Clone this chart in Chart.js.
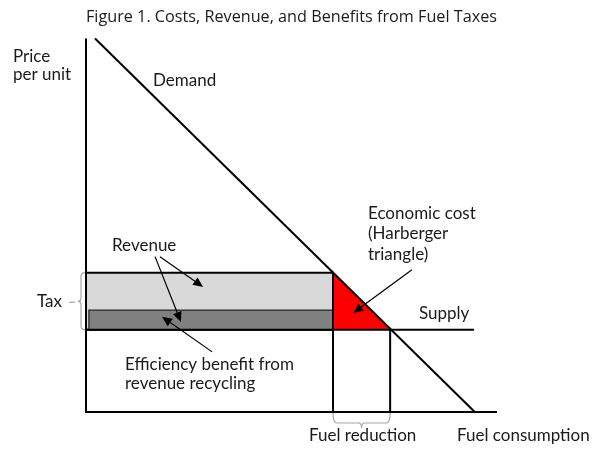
<!DOCTYPE html>
<html>
<head>
<meta charset="utf-8">
<script src="https://cdn.jsdelivr.net/npm/chart.js@4.4.1/dist/chart.umd.min.js"></script>
<style>
  body { margin: 0; background: #fff; }
  #wrap { width: 597px; height: 451px; position: relative; }
</style>
</head>
<body>
<div id="wrap"><canvas id="chartFuel"></canvas></div>
<script>
// quantity (x) and price (y), both on a 0-100 scale
const axisQ = [0, 0, 100];
const axisP = [100, 0, 0];
const demandQ = [2.2, 94.6];
const demandP = [100, 0];
const supplyQ = [0, 94.4];
const supplyP = [22, 22];
const taxP = [22, 37.3];          // producer price, consumer price with tax
const recyclingP = [22, 27.3];    // efficiency benefit band
const recyclingQ = [0.7, 60.1];
const fuelQ = [60.1, 74];         // consumption with tax, without tax

// arrows: [tailQ, tailP, tipQ, tipP]
const arrows = [
  [18, 41.6, 28.5, 33.5],
  [16.8, 41.6, 23.1, 24.1],
  [30.7, 16.1, 18.5, 25.5],
  [79.3, 38.1, 65, 26.5]
];

const labels = [
  { text: 'Price', x: 13, y: 62 },
  { text: 'per unit', x: 13, y: 80 },
  { text: 'Demand', x: 153, y: 86 },
  { text: 'Economic cost', x: 368, y: 219 },
  { text: '(Harberger', x: 368, y: 239 },
  { text: 'triangle)', x: 368, y: 260 },
  { text: 'Revenue', x: 112, y: 251 },
  { text: 'Supply', x: 419, y: 319 },
  { text: 'Tax', x: 37, y: 307 },
  { text: 'Efficiency benefit from', x: 125, y: 370 },
  { text: 'revenue recycling', x: 125, y: 389 },
  { text: 'Fuel reduction', x: 309, y: 441 },
  { text: 'Fuel consumption', x: 457, y: 441 }
];

const pts = (qs, ps) => qs.map((q, i) => ({ x: q, y: ps[i] }));

const lineSet = (data, width) => ({
  type: 'scatter', data, showLine: true, pointRadius: 0, fill: false,
  borderColor: '#000', borderWidth: width, clip: false, order: 1
});
const shapeSet = (data, color, border, width) => ({
  type: 'scatter', data, showLine: true, pointRadius: 0, fill: 'shape',
  backgroundColor: color, borderColor: border, borderWidth: width, clip: false, order: 2
});

const box = (q0, q1, p0, p1) => [
  { x: q0, y: p0 }, { x: q0, y: p1 }, { x: q1, y: p1 }, { x: q1, y: p0 }, { x: q0, y: p0 }
];

const annotations = {
  id: 'annotations',
  afterDatasetsDraw(chart) {
    const { ctx, scales: { x, y } } = chart;
    ctx.save();

    // arrows
    ctx.strokeStyle = '#000';
    ctx.fillStyle = '#000';
    ctx.lineWidth = 1.2;
    arrows.forEach(([q0, p0, q1, p1]) => {
      const x0 = x.getPixelForValue(q0), y0 = y.getPixelForValue(p0);
      const x1 = x.getPixelForValue(q1), y1 = y.getPixelForValue(p1);
      const a = Math.atan2(y1 - y0, x1 - x0);
      const len = 10, hw = 4.5;
      const bx = x1 - len * Math.cos(a), by = y1 - len * Math.sin(a);
      ctx.beginPath();
      ctx.moveTo(x0, y0);
      ctx.lineTo(bx, by);
      ctx.stroke();
      ctx.beginPath();
      ctx.moveTo(x1, y1);
      ctx.lineTo(bx + hw * Math.sin(a), by - hw * Math.cos(a));
      ctx.lineTo(bx - hw * Math.sin(a), by + hw * Math.cos(a));
      ctx.closePath();
      ctx.fill();
    });

    // braces
    ctx.strokeStyle = '#a6a6a6';
    ctx.lineWidth = 1.2;
    const xr = x.left - 1, xm = xr - 4, xc = xr - 7;
    const yt = y.getPixelForValue(taxP[1]), yb = y.getPixelForValue(taxP[0]);
    const ym = (yt + yb) / 2;
    ctx.beginPath();
    ctx.moveTo(xr, yt);
    ctx.quadraticCurveTo(xm, yt, xm, yt + 4);
    ctx.lineTo(xm, ym - 3);
    ctx.quadraticCurveTo(xm, ym, xc, ym);
    ctx.quadraticCurveTo(xm, ym, xm, ym + 3);
    ctx.lineTo(xm, yb - 4);
    ctx.quadraticCurveTo(xm, yb, xr, yb);
    ctx.stroke();
    ctx.beginPath();
    ctx.moveTo(xc - 9, ym + 1);
    ctx.lineTo(xc - 3, ym + 1);
    ctx.stroke();

    const x1 = x.getPixelForValue(fuelQ[0]), x2 = x.getPixelForValue(fuelQ[1]);
    const bt = y.bottom + 1, bm = bt + 10, bc = bt + 15, xmid = (x1 + x2) / 2;
    ctx.beginPath();
    ctx.moveTo(x1, bt);
    ctx.quadraticCurveTo(x1, bm, x1 + 4, bm);
    ctx.lineTo(xmid - 3, bm);
    ctx.quadraticCurveTo(xmid, bm, xmid, bc);
    ctx.quadraticCurveTo(xmid, bm, xmid + 3, bm);
    ctx.lineTo(x2 - 4, bm);
    ctx.quadraticCurveTo(x2, bm, x2, bt);
    ctx.stroke();

    // text
    ctx.fillStyle = '#1a1a1a';
    ctx.font = '17px Lato';
    ctx.textBaseline = 'alphabetic';
    ctx.textAlign = 'left';
    labels.forEach(l => ctx.fillText(l.text, l.x, l.y));
    ctx.restore();
  }
};

new Chart(document.getElementById('chartFuel'), {
  type: 'scatter',
  data: {
    datasets: [
      lineSet(pts(axisQ, axisP), 2),
      lineSet(pts(demandQ, demandP), 2),
      lineSet(pts(supplyQ, supplyP), 2),
      lineSet([{ x: fuelQ[0], y: taxP[1] }, { x: fuelQ[0], y: 0 }], 2),
      lineSet([{ x: fuelQ[1], y: taxP[0] }, { x: fuelQ[1], y: 0 }], 2),
      shapeSet(box(recyclingQ[0], recyclingQ[1], recyclingP[0], recyclingP[1]), '#808080', '#262626', 1.2),
      shapeSet([{ x: fuelQ[0], y: taxP[1] }, { x: fuelQ[0], y: taxP[0] }, { x: fuelQ[1], y: taxP[0] }, { x: fuelQ[0], y: taxP[1] }], '#ff0000', '#000', 0),
      { ...shapeSet(box(0, fuelQ[0], taxP[0], taxP[1]), '#d9d9d9', '#000', 2), order: 3 }
    ]
  },
  options: {
    responsive: true,
    maintainAspectRatio: false,
    animation: false,
    layout: { padding: { left: 86, right: 100, top: 0, bottom: 39 } },
    scales: {
      x: { type: 'linear', min: 0, max: 100, display: false },
      y: { type: 'linear', min: 0, max: 100, display: false }
    },
    plugins: {
      legend: { display: false },
      tooltip: { enabled: false },
      title: {
        display: true,
        text: 'Figure 1. Costs, Revenue, and Benefits from Fuel Taxes',
        color: '#1a1a1a',
        font: { family: '"Open Sans"', size: 16.3, weight: 'normal' },
        padding: { top: 8, bottom: 11 }
      }
    }
  },
  plugins: [annotations]
});
</script>
</body>
</html>
